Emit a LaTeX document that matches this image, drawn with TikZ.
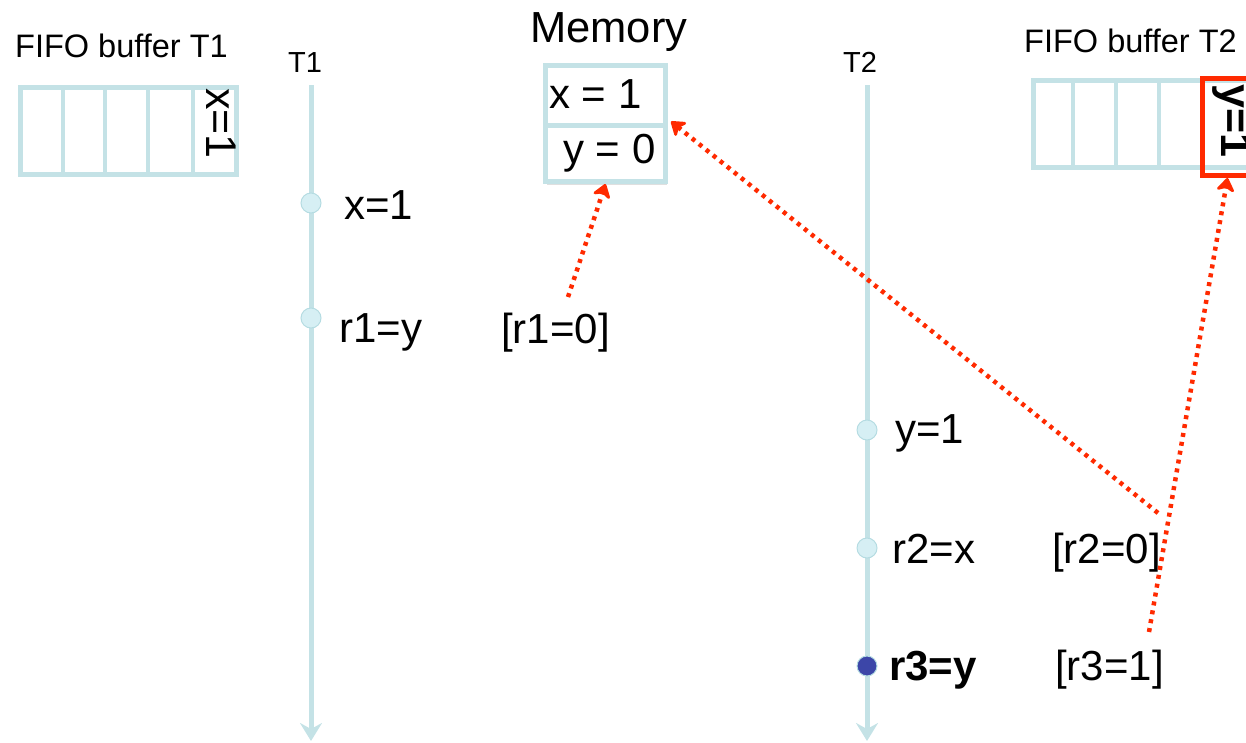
\documentclass[tikz,border=0pt]{standalone}
\usepackage{fontspec}
\setmainfont{Liberation Sans}
\usetikzlibrary{arrows.meta,shadows,calc}
\definecolor{lineblue}{HTML}{C4E2E6}
\definecolor{dotfill}{HTML}{D6EFF4}
\definecolor{dotdraw}{HTML}{B5DCE2}
\definecolor{redc}{HTML}{FF2A00}
\definecolor{darkdot}{HTML}{3C46A8}
\begin{document}
\begin{tikzpicture}[x=1pt,y=-1pt,
  lbl/.style={font=\fontsize{42}{48}\selectfont, inner sep=0pt, anchor=base west},
  title/.style={font=\fontsize{32.5}{38}\selectfont, inner sep=0pt, anchor=base west},
  tlbl/.style={font=\fontsize{29}{35}\selectfont, inner sep=0pt, anchor=base west},
  bufbox/.style={draw=lineblue, line width=5pt, fill=white, inner sep=0pt,
     drop shadow={shadow xshift=1pt, shadow yshift=-3pt, opacity=0.25, fill=gray}},
  divider/.style={draw=lineblue, line width=4pt},
  timeline/.style={draw=lineblue, line width=5pt, -{Stealth[length=18pt,width=22pt,inset=6pt]}},
  evdot/.style={circle, fill=dotfill, draw=dotdraw, line width=1pt, minimum size=20pt, inner sep=0pt},
  evdark/.style={circle, fill=darkdot, draw=dotdraw, line width=1pt, minimum size=20pt, inner sep=0pt},
  redarrow/.style={draw=redc, line width=4.5pt, dash pattern=on 4pt off 5pt,
     -{Stealth[length=16pt,width=22pt,inset=5pt,round]}},
  redbox/.style={draw=redc, line width=5pt, inner sep=0pt}
]
\useasboundingbox (0,0) rectangle (1246,742);

% ---------- FIFO buffer T1 ----------
\node[title] (fifo1) at (15,57) {FIFO buffer T1};
\node[bufbox, minimum width=216pt, minimum height=87pt] (buf1) at (128,130.5) {};
\foreach \xx in {63,105,148,193} \draw[divider] (\xx,87) -- (\xx,174);
\node[font=\fontsize{43}{50}\selectfont, inner sep=0pt, anchor=base west, rotate=-90] (bx1) at (206,88) {x=1};

% ---------- FIFO buffer T2 ----------
\node[title] (fifo2) at (1024,52) {FIFO buffer T2};
\node[bufbox, minimum width=220pt, minimum height=87pt] (buf2) at (1143,123.5) {};
\foreach \xx in {1073,1116,1159} \draw[divider] (\xx,80) -- (\xx,167);
\node[redbox, minimum width=50pt, minimum height=97pt] (rbox) at (1227.5,127) {};
\node[font=\bfseries\fontsize{43}{50}\selectfont, inner sep=0pt, anchor=base west, rotate=-90] (by2) at (1221,84) {y=1};

% ---------- Memory ----------
\node[font=\fontsize{43.5}{50}\selectfont, inner sep=0pt, anchor=base west] (memt) at (530,42) {Memory};
\node[bufbox, minimum width=120pt, minimum height=59.5pt] (memx) at (605.5,95.25) {};
\node[bufbox, minimum width=120pt, minimum height=56.5pt] (memy) at (605.5,153.25) {};
\node[lbl] (mxt) at (549,108) {x = 1};
\node[lbl] (myt) at (563,163) {y = 0};

% ---------- Timelines ----------
\node[tlbl] (t1) at (288,72) {T1};
\node[tlbl] (t2) at (843,72) {T2};
\coordinate (t1top) at (311,85);
\coordinate (t1bot) at (311,741);
\coordinate (t2top) at (867,85);
\coordinate (t2bot) at (867,741);
\draw[timeline] (t1top) -- (t1bot);
\draw[timeline] (t2top) -- (t2bot);

% ---------- T1 events ----------
\node[evdot] (e1) at (311,203) {};
\node[evdot] (e2) at (311,318) {};
\node[lbl] (l1) at (344,219) {x=1};
\node[lbl] (l2) at (339,342) {r1=y};
\node[lbl] (v1) at (501,343) {[r1=0]};

% ---------- T2 events ----------
\node[evdot] (e3) at (867,430) {};
\node[evdot] (e4) at (867,548) {};
\node[evdark] (e5) at (867,666) {};
\node[lbl] (l3) at (895,443) {y=1};
\node[lbl] (l4) at (892,563) {r2=x};
\node[lbl, font=\bfseries\fontsize{42}{48}\selectfont] (l5) at (889,680) {r3=y};
\node[lbl] (v2) at (1052,563) {[r2=0]};
\node[lbl] (v3) at (1055,680) {[r3=1]};

% ---------- red dotted arrows ----------
\coordinate (a1) at (568,297);
\coordinate (a2) at (1158,513);
\coordinate (a3) at (1149,632);
\draw[redarrow] (a1) -- (memy.south);
\draw[redarrow] (a2) -- ($(memx.south east)+(3,-6)$);
\draw[redarrow] (a3) -- (rbox.south);
\end{tikzpicture}
\end{document}
